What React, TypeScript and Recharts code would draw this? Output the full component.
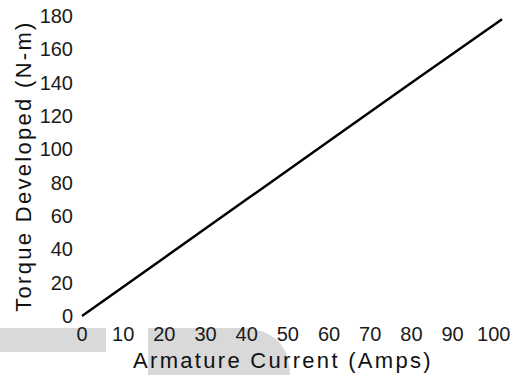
import React from 'react';
import { LineChart, Line, XAxis, YAxis, Label } from 'recharts';

const currentAmps = [0, 20, 40, 60, 80, 102];
const torqueNm = [0, 35, 70, 105, 140, 178];
const xTicks = [0, 10, 20, 30, 40, 50, 60, 70, 80, 90, 100];
const yTicks = [0, 20, 40, 60, 80, 100, 120, 140, 160, 180];

const FONT = '"Liberation Sans", Arial, sans-serif';
const titleStyle = { fontSize: 22, letterSpacing: 2.3, fill: '#111', fontFamily: FONT };

// drawn by hand so the tick font size sticks
const XTick = ({ x, y, payload }: any) => (
  <text x={x} y={y} dy="0.71em" textAnchor="middle" fontSize={20} fontFamily={FONT} fill="#1a1a1a">
    {payload.value}
  </text>
);

const YTick = ({ x, y, payload }: any) => (
  <text x={x} y={y} dy="0.355em" textAnchor="end" fontSize={20} fontFamily={FONT} fill="#1a1a1a">
    {payload.value}
  </text>
);

export default function App() {
  const data = currentAmps.map((current, i) => ({ current, torque: torqueNm[i] }));

  return (
    <div style={{ position: 'absolute', left: 0, top: 0, width: 515, height: 375, background: '#fff', fontFamily: FONT }}>
      {/* faint watermark behind the chart */}
      <svg width={515} height={375} style={{ position: 'absolute', left: 0, top: 0 }}>
        <rect x={0} y={328} width={106} height={24} fill="#d9d9d9" />
        <path d="M148,328 L245,328 Q290,332 290,375 L148,375 Z" fill="#d9d9d9" />
      </svg>
      <div style={{ position: 'absolute', left: 0, top: 0 }}>
        <LineChart width={515} height={375} data={data} margin={{ top: 16, right: 13, left: 0, bottom: 29 }}>
          <XAxis
            dataKey="current"
            type="number"
            domain={[0, 102]}
            ticks={xTicks}
            interval={0}
            axisLine={false}
            tickLine={false}
            tickMargin={5}
            tick={<XTick />}
            height={30}
          >
            <Label
              value="Armature Current (Amps)"
              position="bottom"
              offset={6}
              dx={-9}
              fontSize={22}
              style={titleStyle}
            />
          </XAxis>
          <YAxis
            type="number"
            domain={[0, 180]}
            ticks={yTicks}
            interval={0}
            axisLine={false}
            tickLine={false}
            tickMargin={3}
            width={82}
            tick={<YTick />}
          >
            <Label
              value="Torque Developed (N-m)"
              angle={-90}
              position="insideLeft"
              offset={23}
              fontSize={22}
              style={{ ...titleStyle, textAnchor: 'middle' }}
            />
          </YAxis>
          <Line
            type="linear"
            dataKey="torque"
            stroke="#000"
            strokeWidth={2.5}
            dot={false}
            isAnimationActive={false}
          />
        </LineChart>
      </div>
    </div>
  );
}
